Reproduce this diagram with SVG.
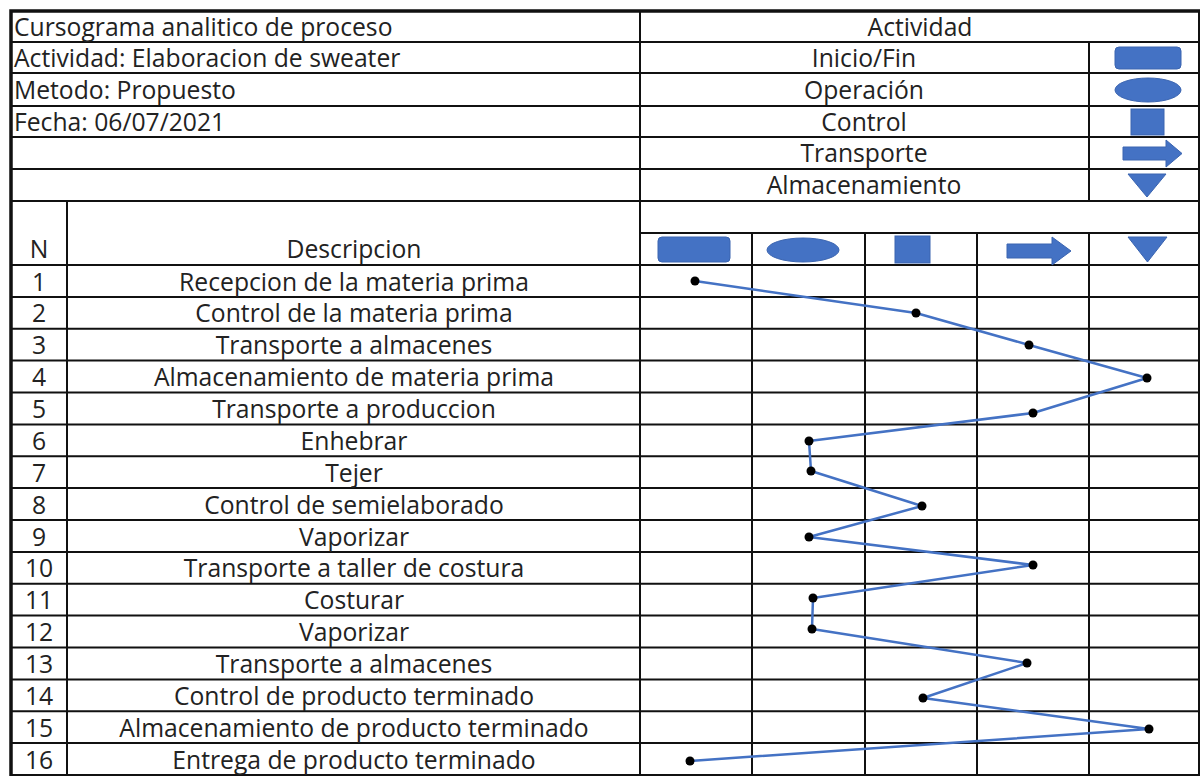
<svg xmlns="http://www.w3.org/2000/svg" width="1201" height="776" viewBox="0 0 1201 776">
<style>
text{font-family:"Open Sans","Liberation Sans",sans-serif;font-size:24.7px;fill:#222}
.c{text-anchor:middle}
.g{stroke:#111;stroke-width:2;fill:none}
.b{stroke:#111;stroke-width:3.5;fill:none}
.ic{fill:#4472C4;stroke:#3A64B0;stroke-width:1}
.flow{fill:none;stroke:#4472C4;stroke-width:2.5;stroke-linejoin:round}
.dot{fill:#000}
</style>
<rect width="1201" height="776" fill="#fff"/>
<g id="grid">
<path class="g" d="M11 42H1200M11 73H1200M11 106H1200M11 137H1200M11 169H1200M11 201H1200M640 233H1200M11 265H1200"/>
<path class="g" d="M11 296.9H1200M11 328.75H1200M11 360.6H1200M11 392.5H1200M11 424.4H1200M11 456.25H1200M11 488.1H1200M11 520H1200M11 551.9H1200M11 583.75H1200M11 615.6H1200M11 647.5H1200M11 679.4H1200M11 711.25H1200M11 743.1H1200M11 775H1200"/>
<path class="g" d="M640 11V776M1089 42V201M67 201V776M752 233V776M865 233V776M977 233V776M1089 233V776M1199 11V776"/>
<path class="b" d="M11 776V11H1200"/>
</g>
<g id="header">
<text x="14" y="36">Cursograma analitico de proceso</text>
<text x="14" y="67">Actividad: Elaboracion de sweater</text>
<text x="14" y="99">Metodo: Propuesto</text>
<text x="14" y="131">Fecha: 06/07/2021</text>
<text class="c" x="920" y="36">Actividad</text>
<text class="c" x="864" y="67">Inicio/Fin</text>
<text class="c" x="864" y="99">Operación</text>
<text class="c" x="864" y="131">Control</text>
<text class="c" x="864" y="162">Transporte</text>
<text class="c" x="864" y="194">Almacenamiento</text>
<text class="c" x="39" y="258">N</text>
<text class="c" x="354" y="258">Descripcion</text>
</g>
<g id="legend-icons">
<rect class="ic" x="1115" y="47" width="66" height="22" rx="4"/>
<ellipse class="ic" cx="1148" cy="90" rx="33" ry="12"/>
<rect class="ic" x="1131" y="109" width="33" height="26"/>
<path class="ic" d="M1123 147H1166V140L1182 153.5L1166 167V160H1123Z"/>
<path class="ic" d="M1128 174H1166L1147 197Z"/>
</g>
<g id="column-icons">
<rect class="ic" x="658" y="237" width="72" height="25" rx="4"/>
<ellipse class="ic" cx="803" cy="250" rx="36" ry="12"/>
<rect class="ic" x="895" y="236" width="35" height="27"/>
<path class="ic" d="M1007 244H1052V237L1071 251L1052 265V258H1007Z"/>
<path class="ic" d="M1128 237H1167L1147.5 262Z"/>
</g>
<g id="rows">
<text class="c" x="39" y="290.5">1</text><text class="c" x="354" y="290.5">Recepcion de la materia prima</text>
<text class="c" x="39" y="322.4">2</text><text class="c" x="354" y="322.4">Control de la materia prima</text>
<text class="c" x="39" y="354.3">3</text><text class="c" x="354" y="354.3">Transporte a almacenes</text>
<text class="c" x="39" y="386.1">4</text><text class="c" x="354" y="386.1">Almacenamiento de materia prima</text>
<text class="c" x="39" y="418">5</text><text class="c" x="354" y="418">Transporte a produccion</text>
<text class="c" x="39" y="449.9">6</text><text class="c" x="354" y="449.9">Enhebrar</text>
<text class="c" x="39" y="481.8">7</text><text class="c" x="354" y="481.8">Tejer</text>
<text class="c" x="39" y="513.6">8</text><text class="c" x="354" y="513.6">Control de semielaborado</text>
<text class="c" x="39" y="545.5">9</text><text class="c" x="354" y="545.5">Vaporizar</text>
<text class="c" x="39" y="577.4">10</text><text class="c" x="354" y="577.4">Transporte a taller de costura</text>
<text class="c" x="39" y="609.3">11</text><text class="c" x="354" y="609.3">Costurar</text>
<text class="c" x="39" y="641.1">12</text><text class="c" x="354" y="641.1">Vaporizar</text>
<text class="c" x="39" y="673">13</text><text class="c" x="354" y="673">Transporte a almacenes</text>
<text class="c" x="39" y="704.9">14</text><text class="c" x="354" y="704.9">Control de producto terminado</text>
<text class="c" x="39" y="736.8">15</text><text class="c" x="354" y="736.8">Almacenamiento de producto terminado</text>
<text class="c" x="39" y="768.6">16</text><text class="c" x="354" y="768.6">Entrega de producto terminado</text>
</g>
<g id="connectors">
<polyline class="flow" points="695,281 916,313 1029,345 1147,378 1033,413 809,441 811,471 922,506 809,537 1033,565 813,598 812,629 1027,663 923,698 1149,729 690,761"/>
</g>
<g id="points">
<circle class="dot" cx="695" cy="281" r="4.5"/><circle class="dot" cx="916" cy="313" r="4.5"/>
<circle class="dot" cx="1029" cy="345" r="4.5"/><circle class="dot" cx="1147" cy="378" r="4.5"/>
<circle class="dot" cx="1033" cy="413" r="4.5"/><circle class="dot" cx="809" cy="441" r="4.5"/>
<circle class="dot" cx="811" cy="471" r="4.5"/><circle class="dot" cx="922" cy="506" r="4.5"/>
<circle class="dot" cx="809" cy="537" r="4.5"/><circle class="dot" cx="1033" cy="565" r="4.5"/>
<circle class="dot" cx="813" cy="598" r="4.5"/><circle class="dot" cx="812" cy="629" r="4.5"/>
<circle class="dot" cx="1027" cy="663" r="4.5"/><circle class="dot" cx="923" cy="698" r="4.5"/>
<circle class="dot" cx="1149" cy="729" r="4.5"/><circle class="dot" cx="690" cy="761" r="4.5"/>
</g>
</svg>
